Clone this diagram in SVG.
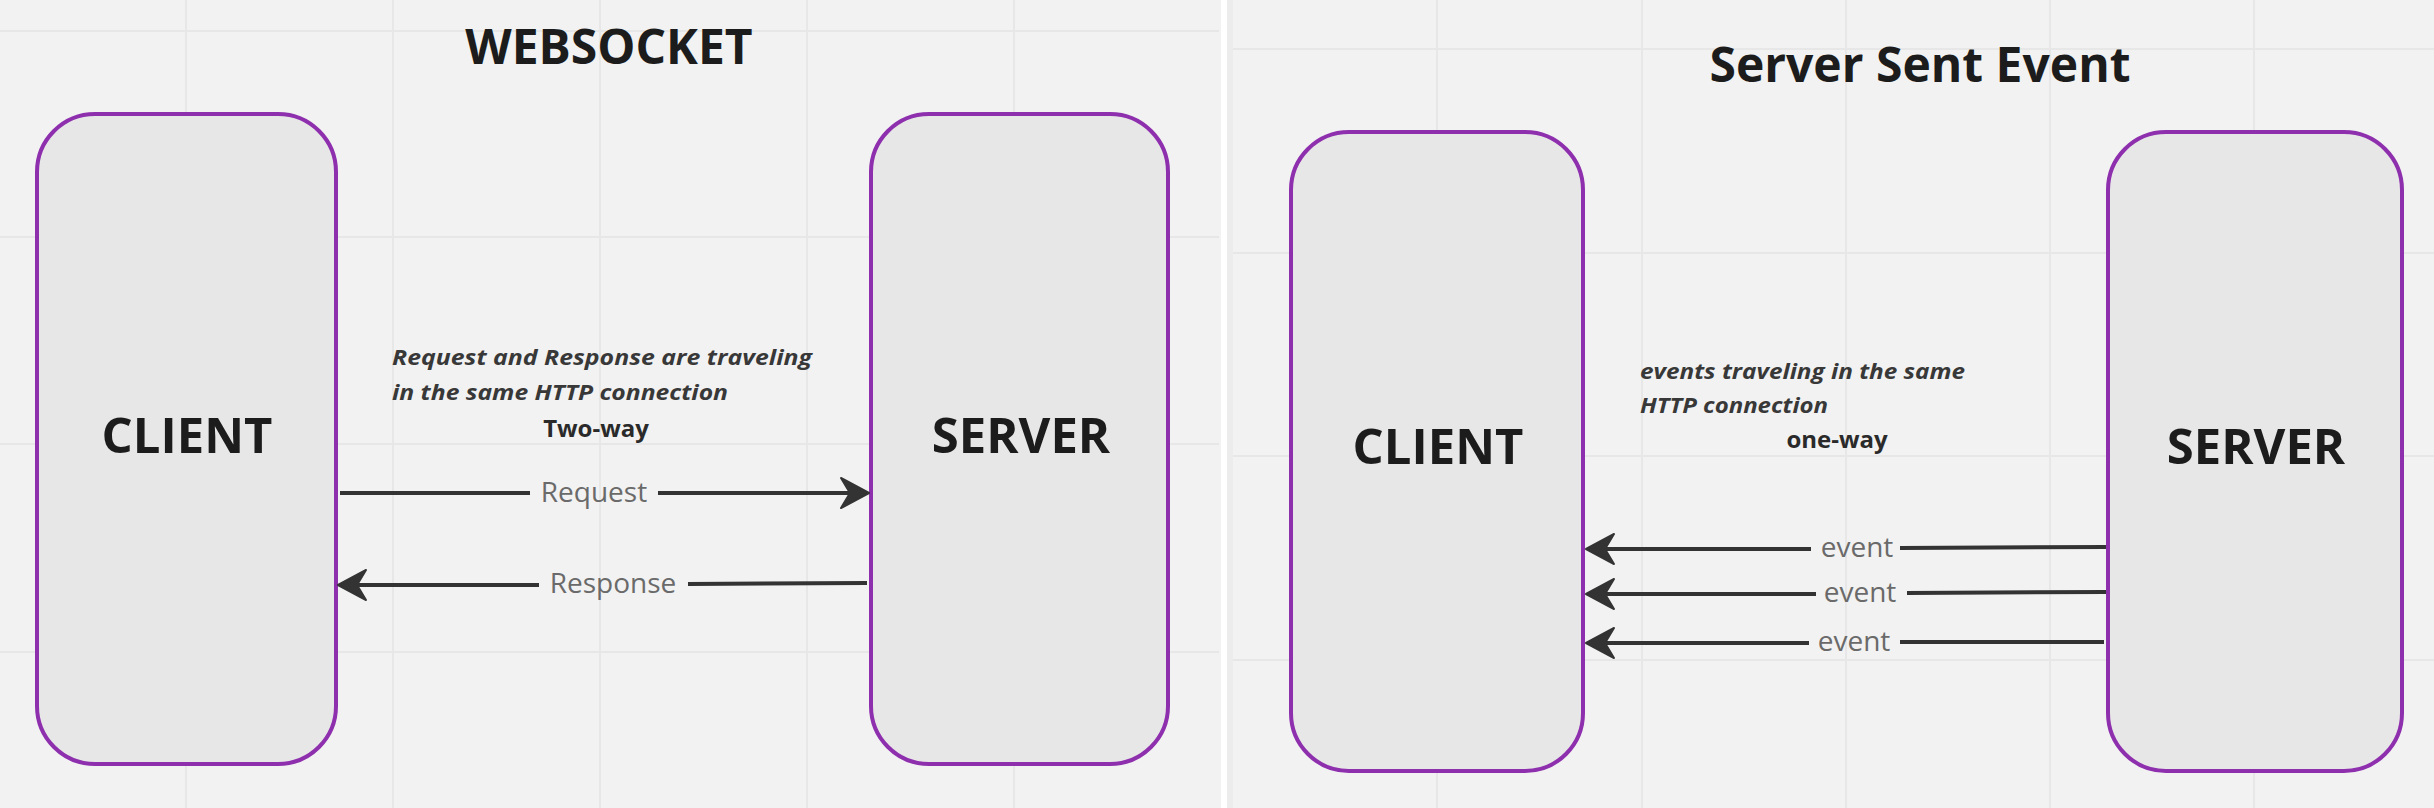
<svg xmlns="http://www.w3.org/2000/svg" width="2434" height="808" viewBox="0 0 2434 808">
<style>
.bg{fill:#f2f2f2}
.grid line{stroke:#e7e7e7;stroke-width:2}
.box{fill:#e8e7e8;stroke:#8e2fae;stroke-width:4}
.title{font-family:"Open Sans","Liberation Sans",sans-serif;font-weight:700;font-size:48px;fill:#1c1c1c;text-anchor:middle}
.node{font-family:"Open Sans","Liberation Sans",sans-serif;font-weight:700;font-size:49px;fill:#1c1c1c;text-anchor:middle}
.note{font-family:"Open Sans","Liberation Sans",sans-serif;font-weight:700;font-style:italic;font-size:22px;fill:#383838}
.way{font-family:"Open Sans","Liberation Sans",sans-serif;font-weight:700;font-size:24px;fill:#2a2a2a;text-anchor:middle}
.conn path{fill:none;stroke:#333;stroke-width:4;marker-end:url(#arr)}
.lbl{font-family:"Open Sans","Liberation Sans",sans-serif;font-size:28px;fill:#6a6a6a;text-anchor:middle}
</style>
<defs>
<marker id="arr" markerUnits="userSpaceOnUse" markerWidth="32" markerHeight="34" refX="24" refY="16" orient="auto" overflow="visible">
<path d="M0,1 L28,16 L0,31 L9,16 Z" fill="#333" stroke="#333" stroke-width="2" stroke-linejoin="round"/>
</marker>
</defs>
<rect class="bg" x="0" y="0" width="2434" height="808"/>
<g class="grid">
<line x1="0" y1="31" x2="1219" y2="31"/>
<line x1="0" y1="237" x2="1219" y2="237"/>
<line x1="0" y1="444" x2="1219" y2="444"/>
<line x1="0" y1="652" x2="1219" y2="652"/>
<line x1="186" y1="0" x2="186" y2="808"/>
<line x1="393" y1="0" x2="393" y2="808"/>
<line x1="600" y1="0" x2="600" y2="808"/>
<line x1="807" y1="0" x2="807" y2="808"/>
<line x1="1014" y1="0" x2="1014" y2="808"/>
<line x1="1229" y1="49" x2="2434" y2="49"/>
<line x1="1229" y1="253" x2="2434" y2="253"/>
<line x1="1229" y1="456" x2="2434" y2="456"/>
<line x1="1229" y1="660" x2="2434" y2="660"/>
<line x1="1437" y1="0" x2="1437" y2="808"/>
<line x1="1642" y1="0" x2="1642" y2="808"/>
<line x1="1846" y1="0" x2="1846" y2="808"/>
<line x1="2050" y1="0" x2="2050" y2="808"/>
<line x1="2254" y1="0" x2="2254" y2="808"/>
</g>
<rect x="1221" y="0" width="6" height="808" fill="#ffffff"/>
<rect x="1227" y="0" width="6" height="808" fill="#ececec"/>

<text class="title" x="609" y="64">WEBSOCKET</text>
<text class="title" x="1920" y="82">Server Sent Event</text>

<g id="ws-client">
<rect class="box" x="37" y="114" width="299" height="650" rx="58" ry="58"/>
<text class="node" x="187" y="453">CLIENT</text>
</g>
<g id="ws-server">
<rect class="box" x="871" y="114" width="297" height="650" rx="58" ry="58"/>
<text class="node" x="1021" y="453">SERVER</text>
</g>
<g id="sse-client">
<rect class="box" x="1291" y="132" width="292" height="639" rx="58" ry="58"/>
<text class="node" x="1438" y="464">CLIENT</text>
</g>
<g id="sse-server">
<rect class="box" x="2108" y="132" width="294" height="639" rx="58" ry="58"/>
<text class="node" x="2256" y="464">SERVER</text>
</g>

<g id="ws-note">
<text class="note" x="392" y="365" textLength="420" lengthAdjust="spacingAndGlyphs">Request and Response are traveling</text>
<text class="note" x="392" y="400" textLength="336" lengthAdjust="spacingAndGlyphs">in the same HTTP connection</text>
<text class="way" x="596" y="437">Two-way</text>
</g>
<g id="sse-note">
<text class="note" x="1640" y="379" textLength="325" lengthAdjust="spacingAndGlyphs">events traveling in the same</text>
<text class="note" x="1640" y="413" textLength="188" lengthAdjust="spacingAndGlyphs">HTTP connection</text>
<text class="way" x="1837" y="448">one-way</text>
</g>

<g id="connectors" class="conn">
<path d="M340,493 L530,493 M658,493 L865,493"/>
<text class="lbl" x="594" y="502">Request</text>
<path d="M867,583 L688,584 M539,585 L342,585"/>
<text class="lbl" x="613" y="593">Response</text>
<path d="M2106,547 L1900,548 M1811,549 L1590,549"/>
<text class="lbl" x="1857" y="557">event</text>
<path d="M2106,592 L1907,593 M1816,594 L1590,594"/>
<text class="lbl" x="1860" y="602">event</text>
<path d="M2104,642 L1900,642 M1809,643 L1590,643"/>
<text class="lbl" x="1854" y="651">event</text>
</g>
</svg>
